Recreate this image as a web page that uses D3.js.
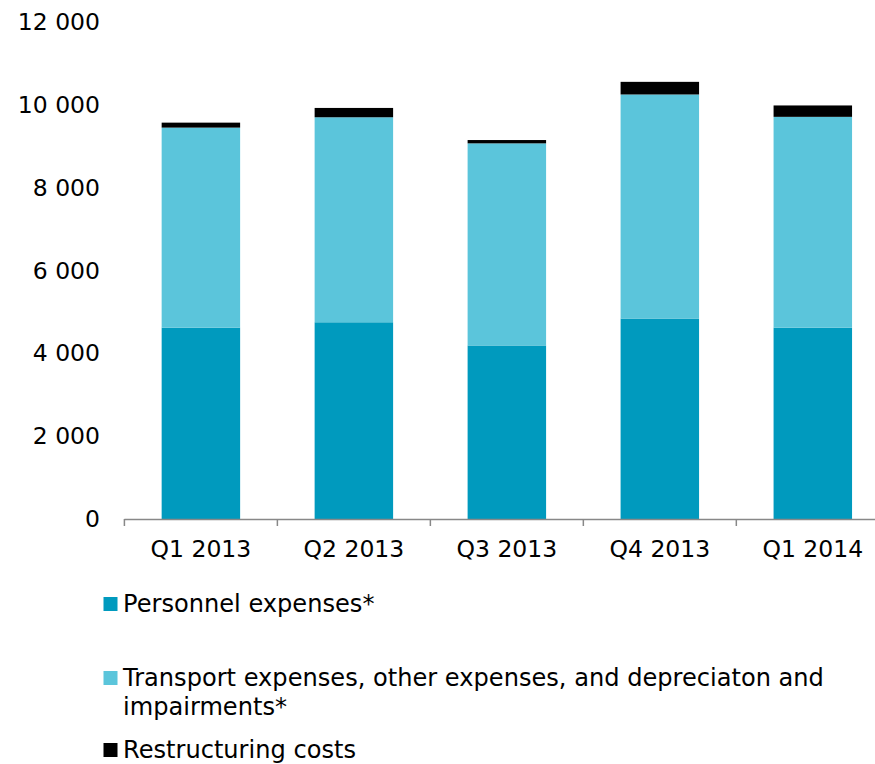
<!DOCTYPE html>
<html>
<head>
<meta charset="utf-8">
<script src="https://cdn.jsdelivr.net/npm/d3@7/dist/d3.min.js"></script>
<style>
  html, body { margin: 0; padding: 0; background: #fff; }
  svg { display: block; font-family: "DejaVu Sans", Verdana, sans-serif; }
</style>
</head>
<body>
<svg id="chart" width="875" height="764"></svg>
<script>
// Quarterly cost breakdown
const categories = ["Q1 2013", "Q2 2013", "Q3 2013", "Q4 2013", "Q1 2014"];
const personnel = [4620, 4750, 4190, 4840, 4620];
const transport = [4830, 4950, 4880, 5410, 5090];
const restructuring = [120, 225, 80, 305, 275];
const yTicks = [0, 2000, 4000, 6000, 8000, 10000, 12000];

const seriesKeys = ["personnel", "transport", "restructuring"];
const seriesNames = [
  ["Personnel expenses*"],
  ["Transport expenses, other expenses, and depreciaton and", "impairments*"],
  ["Restructuring costs"]
];
const colors = ["#009abe", "#5bc5db", "#000000"];

const rows = categories.map((c, i) => ({
  category: c,
  personnel: personnel[i],
  transport: transport[i],
  restructuring: restructuring[i]
}));

const svg = d3.select("#chart");
const fontSize = 23.5;
const legendFontSize = 24.1;

const x = d3.scaleBand()
  .domain(categories)
  .range([124.4, 889.3])
  .paddingInner(0.487)
  .paddingOuter(0.2435);

const y = d3.scaleLinear().domain([0, 12000]).range([519, 22]);

const stack = d3.stack().keys(seriesKeys);
const stacked = stack(rows);

// bars
svg.append("g")
  .selectAll("g")
  .data(stacked)
  .join("g")
  .attr("fill", (d, i) => colors[i])
  .selectAll("rect")
  .data(d => d)
  .join("rect")
  .attr("x", d => x(d.data.category))
  .attr("width", x.bandwidth())
  .attr("y", d => y(d[1]))
  .attr("height", d => y(d[0]) - y(d[1]));

// y tick labels (no axis line)
const yAxis = d3.axisLeft(y).tickValues(yTicks).tickSize(0).tickPadding(0)
  .tickFormat(d => d3.format(",")(d).replace(/,/g, " "));
const yg = svg.append("g").attr("transform", "translate(100,0)").call(yAxis);
yg.select(".domain").remove();
yg.selectAll("text").attr("font-size", fontSize).attr("fill", "#000")
  .attr("font-family", "DejaVu Sans, Verdana, sans-serif");

// x axis with boundary ticks
const step = x.step();
const xg = svg.append("g").attr("transform", `translate(0,${y(0)})`);
const [r0, r1] = x.range();
xg.append("line")
  .attr("x1", r0).attr("x2", r1)
  .attr("y1", 0.5).attr("y2", 0.5)
  .attr("stroke", "#888").attr("stroke-width", 1.5);
const bounds = categories.map(c => x(c) + x.bandwidth() / 2 - step / 2);
bounds.push(bounds[bounds.length - 1] + step);
xg.selectAll("line.tick")
  .data(bounds)
  .join("line")
  .attr("class", "tick")
  .attr("x1", d => d).attr("x2", d => d)
  .attr("y1", 0).attr("y2", 7)
  .attr("stroke", "#888").attr("stroke-width", 1.5);

const xAxis = d3.axisBottom(x).tickSize(0).tickPadding(0);
const xl = svg.append("g").attr("transform", `translate(0,${y(0)})`).call(xAxis);
xl.select(".domain").remove();
xl.selectAll("text")
  .attr("font-size", fontSize).attr("fill", "#000")
  .attr("font-family", "DejaVu Sans, Verdana, sans-serif")
  .attr("dy", null)
  .attr("y", 38);

// legend
const legendBaselines = [612, 686, 758];
const lineGap = 29;
const legend = svg.append("g");
seriesKeys.forEach((k, i) => {
  const base = legendBaselines[i];
  legend.append("rect")
    .attr("x", 103.5).attr("y", base - 15)
    .attr("width", 14).attr("height", 14)
    .attr("fill", colors[i]);
  const t = legend.append("text")
    .attr("x", 123).attr("y", base)
    .attr("font-size", legendFontSize).attr("fill", "#000");
  seriesNames[i].forEach((line, j) => {
    t.append("tspan").attr("x", 123).attr("y", base + j * lineGap).text(line);
  });
});
</script>
</body>
</html>
